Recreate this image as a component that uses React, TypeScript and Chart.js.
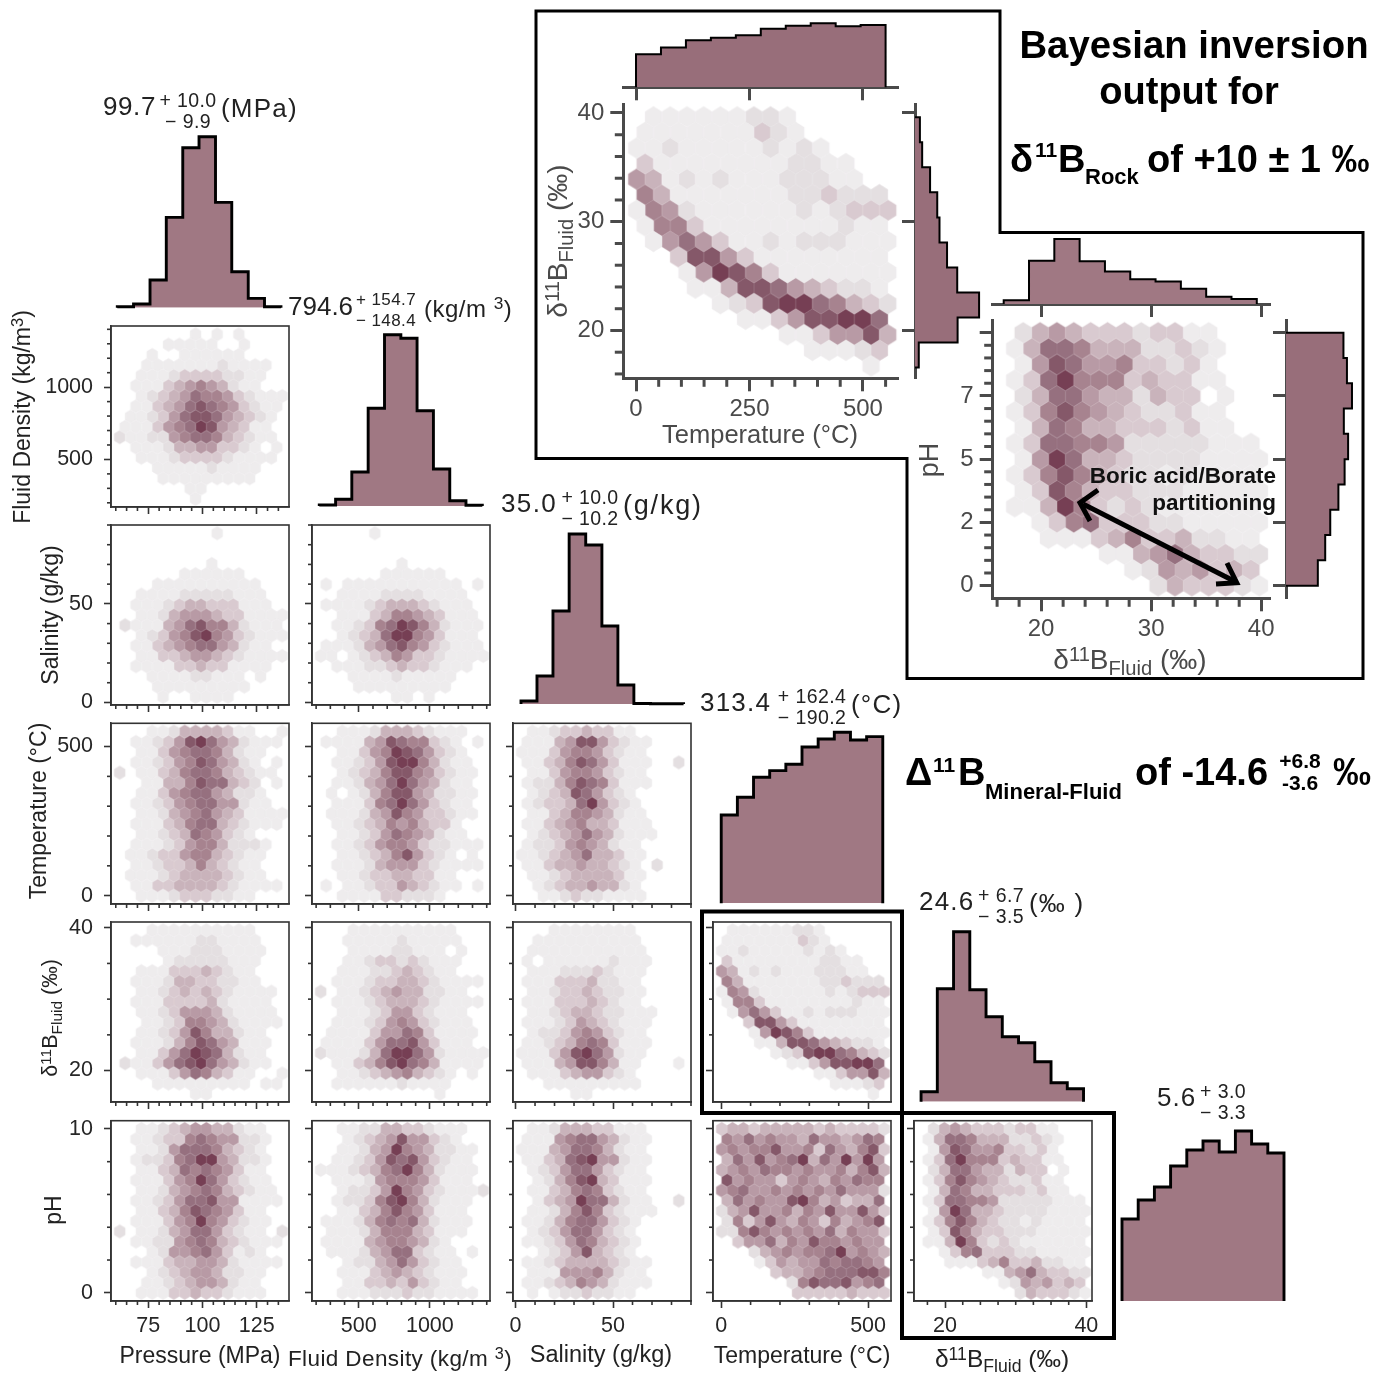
import React, { useEffect, useRef } from "react";
import { Chart, registerables } from "chart.js";

Chart.register(...registerables);

const FONT = '"Liberation Sans", Arial, sans-serif';

// ---- hexbin intensity tables: one string per hexagon row (top to bottom), 0 = empty cell, 1..9 = density level
const PRESSURE_DENSITY = ["0000000101010000","000011111001000","0001001111110000","001111111211110","0011123333221100","011134565421100","0012345766532111","011345787653211","0112357887543210","111356798543110","2112256776432110","011124455332101","0011123333211110","000111112111100","0000111111111000","000000110000000","0000000100000000"];
const PRESSURE_SALINITY = ["0000000001000000","000000000000000","0000000000000000","000000001000000","0000001111110000","000111111111100","0011112222211100","011123443331110","0011245554331111","211145786642111","0012356896532111","011345677542110","0011334554321111","011113343311110","0001111221110100","000111111111000","0000100111100000"];
const DENSITY_SALINITY = ["0000010000000000","000000000000000","0000000000000000","000000010000000","0000001111110000","101111111111101","0011112222111100","111123444321110","0011134665431110","011236798642111","0012347996531110","111245786532111","1101234653321111","011122343321110","0001111211111000","000111111111000","0000000110100000"];
const PRESSURE_TEMPERATURE = ["0001124444311001","011235897542111","0011356776421100","011235687542101","2011346776432110","001144687743201","0011356775422100","011235677552110","0011245675431111","011134677432111","0011234765321000","011123566422210","0112335664321100","011233464321100","0111234444321100","011334444321111","0011123332211000"];
const DENSITY_TEMPERATURE = ["0011124443211100","111145876632101","0011356987532100","011235899642110","0012346886532110","011245797542110","0101246885422110","011136797532110","0111245865332110","011234656433100","0011235765421100","011235665322111","0011234685321010","011124555321111","0011233443311000","101123354321101","0011113322210000"];
const SALINITY_TEMPERATURE = ["0112334331100000","111458853211000","1113566532110000","113468753111002","0113566532110000","122468763111000","0123487532100000","123347953210000","0113466542110000","113456443111000","0123457542111000","122356542110000","1123457443110000","113445443210200","0112344443110000","012344544210000","0011232211110000"];
const PRESSURE_DELTA = ["0001111111111000","011111122111100","0000111222111100","000012222211100","0011133343211000","011124433221100","0011234343211110","011133334211110","0011235554211110","001123665421111","0011235864421100","011124687541110","0011357987421100","211357897542110","0011135764311001","000111111111011","0000000110000000"];
const DENSITY_DELTA = ["0001111111111000","001111121111100","0001111221110100","001123323211100","0011122343211000","011123344321111","2011234544221100","011123444321111","0011123553211100","011123565321110","0111135576311110","111135778531110","2111247997521111","011346897641111","0011234564321010","011111121111000","0000000000010000"];
const SALINITY_DELTA = ["0001111111100000","011111111110000","0111111111110000","101111112111000","0111222321110000","111333422110000","0112334322110000","111333432110000","0112344322111000","111235432111000","0122356532110000","112346763111000","1113589752110000","111458864110001","0111345532100000","001111111110000","0000011000000000"];
const TEMPERATURE_DELTA = ["0111111221000000","111111132100000","1121111121210000","311111111221100","5412121112221100","641111111223222","1652111111212333","166311111111211","0157531121222111","003885311111111","0001598631111111","000114887543221","0000012389976432","000000113588997","0000000001135584","000000000011123","0000000000000010"];
const PRESSURE_PH = ["0011234554421100","011233676552210","0011257776432100","012236799542210","0011347676531100","011135697532110","0011245676432110","011235778551111","0011346876531100","011135696532110","2011245775321102","011225676432111","0001255675312100","011134455421111","0001234554221100","001123455421100","0011133433211100"];
const DENSITY_PH = ["0011224433211100","001234585532100","0011245965422110","011235878532110","1112346796421110","011125666531110","0012235965321112","012236896421110","0011346865311100","111246767421110","0111246664311100","111145665421000","0111245773211010","001224575321100","0011134543211100","001133435321100","0011122232211110"];
const SALINITY_PH = ["0112444331110000","111567754211000","1114577642110000","113478955211000","0123577532110000","012468943111000","0113467632110000","013459774211002","0112468632111000","112467753210000","0123577532100000","112357643210000","0012358432100000","112344443211000","0111555642110000","112346542111000","0101223221100000"];
const TEMPERATURE_PH = ["3443444443433332","657565547554576","5656685563754683","475856794759595","4565766565564684","856553565465766","5675565656575552","475655896453447","2458556465855853","263585465364568","2268656565746553","035574658665655","0002456566795654","000135455767765","0000034456777886","000000268778567","0000000333334333"];
const DELTA_PH = ["0245433323311000","147764442232100","0158755633231000","137966634331100","0247754424330100","136865432231100","0147644333231100","137766522222111","0159744322221111","136864322121111","0138643322211111","114963232111111","0013673332211111","001113463342211","0000001145743322","000000012545343","0000000002433321"];

// ---- marginal histograms: bin edges and bar heights
const PRESSURE_EDGES = [60.7, 68.2, 75.8, 83.3, 90.9, 98.4, 106, 113.5, 121.1, 128.6, 136.2];
const PRESSURE_HIST = [1, 3.7, 27.7, 90.3, 160, 171, 105.3, 36, 9.3, 1];
const DENSITY_EDGES = [222, 337, 451, 566, 681, 796, 910, 1025, 1140, 1254, 1369];
const DENSITY_HIST = [1, 6.7, 34, 97.7, 171.3, 167.7, 95.3, 37, 5.3, 0.7];
const SALINITY_EDGES = [2.8, 11, 19.2, 27.5, 36, 44.3, 52.5, 60.7, 69.2, 77.6, 86.2];
const SALINITY_HIST = [3, 28, 93, 170, 159, 78, 19, 0.5, 0.3, 0.2];
const TEMPERATURE_EDGES = [0, 55, 110, 165, 220, 275, 330, 385, 440, 495, 550];
const TEMPERATURE_HIST = [88.3, 106, 126, 132.7, 139, 156.3, 164.3, 171, 163.3, 166.7];
const DELTA_EDGES = [16.6, 18.9, 21.2, 23.5, 25.8, 28.1, 30.4, 32.7, 35, 37.3, 39.6];
const DELTA_HIST = [10, 113, 170, 112, 85, 65, 59, 40, 19, 13];
const PH_EDGES = [0, 1, 2, 3, 4, 5, 6, 7, 8, 9, 10];
const PH_HIST = [82, 101, 114, 135, 151, 160, 149, 170, 157, 148];

// ---- axis definitions
const PRESSURE_RANGE = [57.8, 139.9];
const DENSITY_RANGE = [171, 1423];
const SALINITY_RANGE = [-1.3, 90];
const TEMPERATURE_RANGE = [-28, 578];
const DELTA_RANGE = [15.6, 40.8];
const PH_RANGE = [-0.5, 10.5];

const pressureAxis = { range: PRESSURE_RANGE, major: [75, 100, 125], minor: [60, 65, 70, 80, 85, 90, 95, 105, 110, 115, 120, 130, 135] };
const densityAxis = { range: DENSITY_RANGE, major: [500, 1000], minor: [200, 300, 400, 600, 700, 800, 900, 1100, 1200, 1300, 1400] };
const salinityAxis = { range: SALINITY_RANGE, major: [0, 50], minor: [10, 20, 30, 40, 60, 70, 80, 90] };
const temperatureAxis = { range: TEMPERATURE_RANGE, major: [0, 500], minor: [100, 200, 300, 400] };
const deltaYAxis = { range: DELTA_RANGE, major: [20, 40], minor: [25, 30, 35] };
const deltaXAxis = { range: DELTA_RANGE, major: [20, 40], minor: [17.5, 22.5, 25, 27.5, 30, 32.5, 35, 37.5] };
const phAxis = { range: PH_RANGE, major: [0, 10], minor: [2, 4, 6, 8] };
const insetTemperatureAxis = { range: TEMPERATURE_RANGE, major: [0, 250, 500], minor: [50, 100, 150, 200, 300, 350, 400, 450, 550] };
const insetDeltaAxis = { range: DELTA_RANGE, major: [20, 30, 40], minor: [16, 18, 22, 24, 26, 28, 32, 34, 36, 38] };
const insetPhAxis = { range: PH_RANGE, major: [0, 2.5, 5, 7.5, 10], minor: [0.5, 1, 1.5, 2, 3, 3.5, 4, 4.5, 5.5, 6, 6.5, 7, 8, 8.5, 9, 9.5] };

const LEVEL_COLORS = ["", "#eeeced", "#e4dfe1", "#d9cad0", "#c9b3bb", "#b89aa5", "#a7838f", "#96707f", "#855869", "#763f54"];

// hexagon lattice position inside an axes box, as fractions of its width/height
const LATTICE = { x0: 0.0489, dx: 0.06085, y0: 0.046, dy: 0.0568 };

function hexPoints(rows: string[], xr: number[], yr: number[]) {
  const levels: { x: number; y: number }[][] = Array.from({ length: 10 }, () => []);
  rows.forEach((row, r) => {
    const odd = r % 2 === 1;
    for (let c = 0; c < row.length; c++) {
      const lv = Number(row[c]);
      if (!lv) continue;
      const fx = LATTICE.x0 + (c + (odd ? 0.5 : 0)) * LATTICE.dx;
      const fy = LATTICE.y0 + r * LATTICE.dy;
      levels[lv].push({ x: xr[0] + fx * (xr[1] - xr[0]), y: yr[1] - fy * (yr[1] - yr[0]) });
    }
  });
  return levels;
}

function hexSprite(w: number, h: number, color: string) {
  const c = document.createElement("canvas");
  c.width = Math.ceil(w) + 4;
  c.height = Math.ceil(h) + 4;
  const g = c.getContext("2d")!;
  const cx = c.width / 2;
  const cy = c.height / 2;
  g.fillStyle = color;
  g.strokeStyle = color;
  g.lineWidth = 0.4;
  g.beginPath();
  g.moveTo(cx, cy - h / 2);
  g.lineTo(cx + w / 2, cy - h / 4);
  g.lineTo(cx + w / 2, cy + h / 4);
  g.lineTo(cx, cy + h / 2);
  g.lineTo(cx - w / 2, cy + h / 4);
  g.lineTo(cx - w / 2, cy - h / 4);
  g.closePath();
  g.fill();
  g.stroke();
  return c;
}

function stepPoints(edges: number[], heights: number[], horizontal: boolean) {
  const pts: [number, number][] = [[edges[0], 0]];
  heights.forEach((h, i) => {
    pts.push([edges[i], h]);
    pts.push([edges[i + 1], h]);
  });
  pts.push([edges[edges.length - 1], 0]);
  return pts.map(([e, h]) => (horizontal ? { x: h, y: e } : { x: e, y: h }));
}

const SMALL = { color: "#333333", width: 1.6, major: 7, minor: 4, font: 21.5, text: "#262626", xPad: 5, yPad: 11 };
const INSET = { color: "#4a4a4a", width: 3, major: 13, minor: 8.5, font: 24, text: "#4a4a4a", xPad: 4, yPad: 6 };

type Area = { l: number; t: number; r: number; b: number };

function axisOptions(axis: any, style: any, horizontal: boolean, labels: boolean, boxSize: number, format?: (v: number) => string) {
  return {
    type: "linear",
    display: true,
    min: axis.range[0],
    max: axis.range[1],
    afterBuildTicks: (s: any) => {
      s.ticks = axis.major.map((value: number) => ({ value }));
    },
    afterFit: (s: any) => {
      if (horizontal) s.height = boxSize;
      else s.width = boxSize;
    },
    grid: { display: true, drawOnChartArea: false, drawTicks: true, tickLength: style.major, tickColor: style.color, tickWidth: style.width },
    border: { display: true, color: style.color, width: style.width },
    ticks: {
      display: labels,
      autoSkip: false,
      maxRotation: 0,
      minRotation: 0,
      padding: horizontal ? style.xPad : style.yPad,
      color: style.text,
      font: { family: FONT, size: style.font },
      callback: (v: number) => (format ? format(v) : String(v)),
    },
  };
}

function decoration(xMinor: number[], yMinor: number[], style: any, frame: boolean) {
  return {
    id: "minorTicksAndFrame",
    afterDraw(chart: any) {
      const { ctx, chartArea: a, scales } = chart;
      ctx.save();
      ctx.strokeStyle = style.color;
      ctx.lineWidth = style.width;
      xMinor.forEach((v) => {
        const p = scales.x.getPixelForValue(v);
        ctx.beginPath();
        ctx.moveTo(p, a.bottom);
        ctx.lineTo(p, a.bottom + style.minor);
        ctx.stroke();
      });
      yMinor.forEach((v) => {
        const p = scales.y.getPixelForValue(v);
        ctx.beginPath();
        ctx.moveTo(a.left, p);
        ctx.lineTo(a.left - style.minor, p);
        ctx.stroke();
      });
      if (frame) ctx.strokeRect(a.left, a.top, a.right - a.left, a.bottom - a.top);
      ctx.restore();
    },
  };
}

const MARGIN = 64;

function useChart(area: Area, reserved: number, build: (a: Area) => any) {
  const ref = useRef<HTMLCanvasElement | null>(null);
  const left = Math.floor(area.l) - MARGIN;
  const top = Math.floor(area.t) - MARGIN;
  const width = Math.ceil(area.r) + MARGIN - left;
  const height = Math.ceil(area.b) + MARGIN - top;
  useEffect(() => {
    const cfg = build(area);
    cfg.options.responsive = false;
    cfg.options.animation = false;
    cfg.options.events = [];
    cfg.options.layout = {
      padding: { left: area.l - left - reserved, top: area.t - top, right: left + width - area.r, bottom: top + height - area.b - reserved },
    };
    cfg.options.plugins = { legend: { display: false }, tooltip: { enabled: false }, title: { display: false } };
    const chart = new Chart(ref.current as any, cfg);
    return () => chart.destroy();
  }, []);
  return <canvas ref={ref} width={width} height={height} style={{ position: "absolute", left, top, width, height, pointerEvents: "none", filter: "blur(0.45px)" }} />;
}

function HexPanel(p: { area: Area; rows: string[]; xAxis: any; yAxis: any; xLabels?: boolean; yLabels?: boolean; inset?: boolean; yFormat?: (v: number) => string }) {
  return useChart(p.area, MARGIN, (a) => {
    const style = p.inset ? INSET : SMALL;
    const w = (a.r - a.l) * LATTICE.dx;
    const h = ((a.b - a.t) * LATTICE.dy * 4) / 3;
    const levels = hexPoints(p.rows, p.xAxis.range, p.yAxis.range);
    const datasets = levels
      .map((data, lv) => ({
        data,
        showLine: false,
        pointStyle: lv ? hexSprite(w, h, LEVEL_COLORS[lv]) : "circle",
        pointRadius: 5,
        order: lv,
      }))
      .filter((d) => d.data.length > 0);
    return {
      type: "scatter",
      data: { datasets },
      options: {
        scales: {
          x: axisOptions(p.xAxis, style, true, !!p.xLabels, MARGIN),
          y: axisOptions(p.yAxis, style, false, !!p.yLabels, MARGIN, p.yFormat),
        },
      },
      plugins: [decoration(p.xAxis.minor, p.yAxis.minor, style, !p.inset)],
    };
  });
}

function HistPanel(p: { area: Area; edges: number[]; heights: number[]; xr: number[]; yMax: number; horizontal?: boolean; axis?: any; fill?: string; lw?: number }) {
  return useChart(p.area, 0, () => {
    const horizontal = !!p.horizontal;
    const data = stepPoints(p.edges, p.heights, horizontal);
    const hidden = (min: number, max: number) => ({ type: "linear", display: false, min, max });
    const scales: any = horizontal
      ? { x: hidden(0, p.yMax), y: p.axis ? axisOptions({ ...p.axis, minor: [] }, INSET, false, false, 0) : hidden(p.xr[0], p.xr[1]) }
      : { x: p.axis ? axisOptions({ ...p.axis, minor: [] }, INSET, true, false, 0) : hidden(p.xr[0], p.xr[1]), y: hidden(0, p.yMax) };
    return {
      type: "line",
      data: {
        datasets: [
          {
            data,
            borderColor: "#000000",
            borderWidth: p.lw ?? 2.9,
            backgroundColor: p.fill ?? "#a07883",
            fill: "origin",
            pointRadius: 0,
            tension: 0,
            borderJoinStyle: "miter",
            clip: false,
          },
        ],
      },
      options: { indexAxis: horizontal ? "y" : "x", scales },
    };
  });
}

function Txt(p: { x: number; y: number; size: number; bold?: boolean; color?: string; anchor?: "l" | "c" | "r"; rot?: boolean; ls?: number; children: React.ReactNode }) {
  const tf = p.rot
    ? "translate(-50%,-50%) rotate(-90deg)"
    : p.anchor === "c"
      ? "translate(-50%,-50%)"
      : p.anchor === "r"
        ? "translate(-100%,-50%)"
        : "translate(0,-50%)";
  return (
    <div
      style={{
        position: "absolute",
        left: p.x,
        top: p.y,
        transform: tf,
        fontFamily: FONT,
        fontSize: p.size,
        fontWeight: p.bold ? 700 : 400,
        color: p.color ?? "#222222",
        letterSpacing: p.ls ?? 0,
        whiteSpace: "nowrap",
        lineHeight: 1.15,
      }}
    >
      {p.children}
    </div>
  );
}

const Up = (p: { children: React.ReactNode }) => <span style={{ fontSize: "0.72em", position: "relative", top: "-0.42em" }}>{p.children}</span>;
const Down = (p: { children: React.ReactNode }) => <span style={{ fontSize: "0.72em", position: "relative", top: "0.3em" }}>{p.children}</span>;
const DeltaFluid = () => (
  <>
    δ<Up>11</Up>B<Down>Fluid</Down> (‰)
  </>
);

function Estimate(p: { x: number; y: number; main: string; up: string; down: string; stackX: number; unitX?: number; unit?: React.ReactNode; ls?: number; stackSize?: number; unitSize?: number; unitLs?: number }) {
  const ss = p.stackSize ?? 19.5;
  return (
    <>
      <Txt x={p.x} y={p.y} size={26} ls={p.ls ?? 1}>{p.main}</Txt>
      <Txt x={p.stackX} y={p.y - 7} size={ss} anchor="c" ls={0.4}>+ {p.up}</Txt>
      <Txt x={p.stackX} y={p.y + 14} size={ss} anchor="c" ls={0.4}>− {p.down}</Txt>
      {p.unit ? <Txt x={p.unitX!} y={p.y + 2} size={p.unitSize ?? 26} ls={p.unitLs ?? 1.2}>{p.unit}</Txt> : null}
    </>
  );
}

const COLS = [
  { l: 111, r: 289 },
  { l: 312, r: 490 },
  { l: 513, r: 691 },
  { l: 713, r: 891 },
  { l: 914, r: 1092 },
];
const ROWS = [
  { t: 326, b: 507 },
  { t: 525, b: 705 },
  { t: 723.3, b: 904 },
  { t: 922, b: 1102 },
  { t: 1120.7, b: 1301 },
];
const box = (c: number, r: number): Area => ({ l: COLS[c].l, r: COLS[c].r, t: ROWS[r].t, b: ROWS[r].b });

const INSET_A: Area = { l: 623.3, t: 104.3, r: 898.3, b: 378.3 };
const INSET_B: Area = { l: 992.7, t: 320, r: 1270, b: 598.3 };
const X_AXES = [pressureAxis, densityAxis, salinityAxis, temperatureAxis, deltaXAxis];
const Y_AXES = [densityAxis, salinityAxis, temperatureAxis, deltaYAxis, phAxis];
const GRID: string[][][] = [
  [PRESSURE_DENSITY],
  [PRESSURE_SALINITY, DENSITY_SALINITY],
  [PRESSURE_TEMPERATURE, DENSITY_TEMPERATURE, SALINITY_TEMPERATURE],
  [PRESSURE_DELTA, DENSITY_DELTA, SALINITY_DELTA, TEMPERATURE_DELTA],
  [PRESSURE_PH, DENSITY_PH, SALINITY_PH, TEMPERATURE_PH, DELTA_PH],
];

export default function App() {
  return (
    <div style={{ position: "absolute", left: 0, top: 0, width: 1391, height: 1373, background: "#ffffff", overflow: "hidden" }}>
      {GRID.map((row, r) =>
        row.map((rows, c) => (
          <HexPanel key={`${r}-${c}`} area={box(c, r)} rows={rows} xAxis={X_AXES[c]} yAxis={Y_AXES[r]} xLabels={r === 4} yLabels={c === 0} />
        )),
      )}

      <HistPanel area={{ l: 111, r: 289, t: 122.7, b: 307.7 }} edges={PRESSURE_EDGES} heights={PRESSURE_HIST} xr={PRESSURE_RANGE} yMax={185} />
      <HistPanel area={{ l: 312, r: 490, t: 321, b: 506 }} edges={DENSITY_EDGES} heights={DENSITY_HIST} xr={DENSITY_RANGE} yMax={185} />
      <HistPanel area={{ l: 513, r: 691, t: 519, b: 704 }} edges={SALINITY_EDGES} heights={SALINITY_HIST} xr={SALINITY_RANGE} yMax={185} />
      <HistPanel area={{ l: 713, r: 891, t: 718.3, b: 903.3 }} edges={TEMPERATURE_EDGES} heights={TEMPERATURE_HIST} xr={TEMPERATURE_RANGE} yMax={185} />
      <HistPanel area={{ l: 914, r: 1092, t: 916.7, b: 1101.7 }} edges={DELTA_EDGES} heights={DELTA_HIST} xr={DELTA_RANGE} yMax={185} />
      <HistPanel area={{ l: 1122, r: 1284, t: 1116, b: 1301 }} edges={PH_EDGES} heights={PH_HIST} xr={[0, 10]} yMax={185} />

      <HexPanel area={INSET_A} rows={TEMPERATURE_DELTA} xAxis={insetTemperatureAxis} yAxis={insetDeltaAxis} xLabels yLabels inset />
      <HistPanel area={{ l: 623.3, r: 898.3, t: 17.3, b: 87.3 }} edges={TEMPERATURE_EDGES} heights={TEMPERATURE_HIST} xr={TEMPERATURE_RANGE} yMax={187} axis={insetTemperatureAxis} fill="#986e7a" lw={2} />
      <HistPanel area={{ l: 915, r: 987, t: 104.3, b: 378.3 }} edges={DELTA_EDGES} heights={DELTA_HIST} xr={DELTA_RANGE} yMax={191} horizontal axis={insetDeltaAxis} fill="#986e7a" lw={2} />

      <HexPanel area={INSET_B} rows={DELTA_PH} xAxis={{ ...insetDeltaAxis }} yAxis={insetPhAxis} xLabels yLabels inset yFormat={(v) => (v === 10 ? "" : String(Math.floor(v)))} />
      <HistPanel area={{ l: 992.7, r: 1270, t: 234, b: 304 }} edges={DELTA_EDGES} heights={DELTA_HIST} xr={DELTA_RANGE} yMax={183} axis={insetDeltaAxis} fill="#a07883" lw={2} />
      <HistPanel area={{ l: 1286, r: 1358, t: 320, b: 598.3 }} edges={PH_EDGES} heights={PH_HIST} xr={PH_RANGE} yMax={185.5} horizontal axis={insetPhAxis} fill="#986e7a" lw={2} />

      <svg width={1391} height={1373} style={{ position: "absolute", left: 0, top: 0, pointerEvents: "none" }}>
        <polygon points="536,11 1000,11 1000,232.5 1363,232.5 1363,678.5 907,678.5 907,458.5 536,458.5" fill="none" stroke="#000" strokeWidth={3} />
        <rect x={702} y={911.5} width={200} height={201.5} fill="none" stroke="#000" strokeWidth={4} />
        <rect x={902} y={1113} width={212} height={225} fill="none" stroke="#000" strokeWidth={4} />
        <line x1={1083} y1={504} x2={1234} y2={581} stroke="#000" strokeWidth={5} />
        <polyline points="1098,490 1080,502.7 1090,521" fill="none" stroke="#000" strokeWidth={5} />
        <polyline points="1227,563 1236.7,582.7 1216,584" fill="none" stroke="#000" strokeWidth={5} />
      </svg>

      <Estimate x={103} y={106.7} main="99.7" up="10.0" down="9.9" stackX={188} unitX={221} unit="(MPa)" ls={0.6} />
      <Estimate x={288} y={306.7} main="794.6" up="154.7" down="148.4" stackX={386} unitX={424} unit={<>(kg/m <Up>3</Up>)</>} ls={0} stackSize={17} unitSize={24} unitLs={0.5} />
      <Estimate x={501} y={504} main="35.0" up="10.0" down="10.2" stackX={590} unitX={623} unit="(g/kg)" ls={1.4} unitSize={27} unitLs={1.8} />
      <Estimate x={700} y={703} main="313.4" up="162.4" down="190.2" stackX={812} unitX={851} unit="(°C)" ls={1.2} />
      <Estimate x={919} y={901.7} main="24.6" up="6.7" down="3.5" stackX={1001} unitX={1029} unit="(‰ )" ls={1.2} />
      <Estimate x={1157} y={1098} main="5.6" up="3.0" down="3.3" stackX={1223} />

      <Txt x={22} y={417} size={23} rot>Fluid Density (kg/m<Up>3</Up>)</Txt>
      <Txt x={50} y={615} size={23} rot>Salinity (g/kg)</Txt>
      <Txt x={38} y={811} size={23} rot>Temperature (°C)</Txt>
      <Txt x={50} y={1018} size={21.5} rot><DeltaFluid /></Txt>
      <Txt x={53} y={1210} size={23} rot>pH</Txt>

      <Txt x={200} y={1355} size={23} anchor="c">Pressure (MPa)</Txt>
      <Txt x={400} y={1359} size={22.5} anchor="c" ls={0.4}>Fluid Density (kg/m <Up>3</Up>)</Txt>
      <Txt x={601} y={1355} size={23.5} anchor="c">Salinity (g/kg)</Txt>
      <Txt x={802} y={1355} size={23} anchor="c">Temperature (°C)</Txt>
      <Txt x={1002} y={1359} size={24.5} anchor="c"><DeltaFluid /></Txt>

      <Txt x={760} y={435} size={25.5} anchor="c" color="#4a4a4a">Temperature (°C)</Txt>
      <Txt x={558} y={241} size={28} rot color="#4a4a4a"><DeltaFluid /></Txt>
      <Txt x={930} y={460} size={27} rot color="#4a4a4a">pH</Txt>
      <Txt x={1130} y={660} size={28} anchor="c" color="#4a4a4a"><DeltaFluid /></Txt>

      <Txt x={1276} y={476} size={22.5} bold anchor="r" color="#111">Boric acid/Borate</Txt>
      <Txt x={1276} y={503} size={22.5} bold anchor="r" color="#111">partitioning</Txt>

      <Txt x={1194} y={45} size={38.3} bold anchor="c" color="#000">Bayesian inversion</Txt>
      <Txt x={1189} y={92} size={38} bold anchor="c" color="#000">output for</Txt>
      <Txt x={1010} y={160} size={38} bold color="#000">δ</Txt>
      <Txt x={1035} y={150} size={21} bold color="#000">11</Txt>
      <Txt x={1058} y={160} size={38} bold color="#000">B</Txt>
      <Txt x={1085} y={177} size={22} bold color="#000">Rock</Txt>
      <Txt x={1147} y={160} size={38} bold color="#000">of +10 ± 1 ‰</Txt>

      <Txt x={905} y={773} size={38} bold color="#000">Δ</Txt>
      <Txt x={933} y={765} size={21} bold color="#000">11</Txt>
      <Txt x={958} y={773} size={38} bold color="#000">B</Txt>
      <Txt x={985} y={792} size={22} bold color="#000">Mineral-Fluid</Txt>
      <Txt x={1135} y={773} size={38} bold color="#000">of -14.6</Txt>
      <Txt x={1300} y={761} size={21} bold anchor="c" color="#000">+6.8</Txt>
      <Txt x={1300} y={783} size={21} bold anchor="c" color="#000">-3.6</Txt>
      <Txt x={1333} y={773} size={38} bold color="#000">‰</Txt>
    </div>
  );
}
